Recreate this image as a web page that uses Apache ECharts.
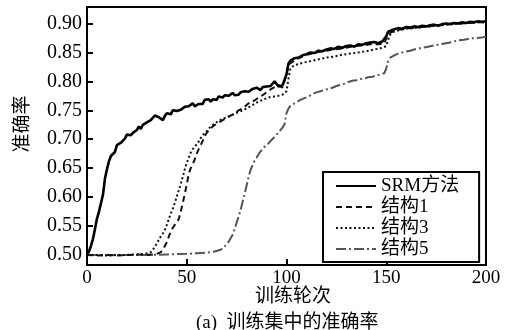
<!DOCTYPE html>
<html>
<head>
<meta charset="utf-8">
<script src="https://cdn.jsdelivr.net/npm/echarts@6/dist/echarts.min.js"></script>
<style>
  html, body { margin: 0; padding: 0; background: #fff; }
  #chart { width: 505px; height: 330px; }
</style>
</head>
<body>
<div id="chart"></div>
<script>
// Training accuracy per epoch, [epoch, accuracy]
const seriesNames = ['SRM方法', '结构1', '结构3', '结构5'];

const srm = [
  [0,0.500],[1,0.506],[2,0.516],[3,0.528],[4,0.545],[5,0.563],[6,0.575],[7,0.578],[8,0.604],[9,0.632],
  [10,0.648],[11,0.662],[12,0.671],[13,0.674],[14,0.678],[15,0.690],[16,0.693],[17,0.694],[18,0.697],[19,0.701],
  [20,0.708],[21,0.709],[22,0.707],[23,0.711],[24,0.713],[25,0.716],[26,0.722],[27,0.718],[28,0.725],[29,0.722],
  [30,0.729],[31,0.727],[32,0.733],[33,0.736],[34,0.741],[35,0.742],[36,0.738],[37,0.735],[38,0.733],[39,0.740],
  [40,0.745],[41,0.748],[42,0.743],[43,0.750],[44,0.752],[45,0.749],[46,0.746],[47,0.751],[48,0.753],[49,0.756],
  [50,0.754],[51,0.757],[52,0.759],[53,0.762],[54,0.757],[55,0.758],[56,0.761],[57,0.764],[58,0.761],[59,0.768],
  [60,0.766],[61,0.769],[62,0.765],[63,0.769],[64,0.771],[65,0.768],[66,0.774],[67,0.771],[68,0.772],[69,0.776],
  [70,0.773],[71,0.775],[72,0.778],[73,0.780],[74,0.776],[75,0.778],[76,0.777],[77,0.781],[78,0.779],[79,0.783],
  [80,0.785],[81,0.782],[82,0.784],[83,0.787],[84,0.786],[85,0.789],[86,0.787],[87,0.785],[88,0.790],[89,0.789],
  [90,0.791],[91,0.788],[92,0.792],[93,0.795],[94,0.800],[95,0.797],[96,0.791],[97,0.789],[98,0.793],[99,0.795],
  [100,0.812],[101,0.831],[102,0.836],[103,0.838],[104,0.840],[106,0.841],[108,0.845],[110,0.847],[112,0.850],[114,0.849],
  [116,0.853],[118,0.852],[120,0.855],[122,0.857],[124,0.856],[126,0.860],[128,0.858],[130,0.861],[132,0.862],[134,0.860],
  [136,0.864],[138,0.863],[140,0.866],[142,0.867],[144,0.868],[146,0.866],[148,0.869],[149,0.867],[150,0.878],[151,0.886],
  [152,0.888],[154,0.890],[156,0.892],[158,0.891],[160,0.894],[162,0.893],[164,0.895],[166,0.894],[168,0.896],[170,0.895],
  [172,0.897],[174,0.898],[176,0.896],[178,0.899],[180,0.900],[182,0.899],[184,0.901],[186,0.900],[188,0.902],[190,0.901],
  [192,0.903],[194,0.902],[196,0.904],[198,0.903],[200,0.904]
];

const struct1 = [
  [0,0.500],[5,0.499],[10,0.500],[15,0.499],[20,0.500],[25,0.501],[30,0.500],[33,0.501],[35,0.502],[37,0.505],
  [38,0.509],[40,0.522],[41,0.532],[42,0.540],[43,0.547],[44,0.552],[45,0.557],[46,0.562],[47,0.575],[48,0.590],
  [49,0.605],[50,0.622],[51,0.640],[52,0.650],[53,0.657],[54,0.665],[55,0.675],[56,0.683],[57,0.690],[58,0.697],
  [59,0.705],[60,0.711],[61,0.715],[62,0.718],[63,0.722],[64,0.724],[65,0.727],[66,0.729],[67,0.731],[68,0.733],
  [69,0.735],[70,0.737],[72,0.741],[74,0.744],[76,0.750],[78,0.753],[80,0.759],[82,0.765],[84,0.767],[86,0.772],
  [88,0.776],[90,0.781],[92,0.786],[94,0.790],[96,0.794],[97,0.791],[98,0.789],[99,0.791],[100,0.812],[101,0.829],
  [102,0.832],[104,0.836],[106,0.840],[108,0.843],[110,0.846],[114,0.849],[118,0.852],[122,0.854],[126,0.856],[130,0.858],
  [134,0.861],[138,0.862],[142,0.864],[146,0.864],[149,0.865],[150,0.874],[151,0.881],[153,0.886],[155,0.889],[158,0.890],
  [162,0.892],[166,0.893],[170,0.895],[175,0.896],[180,0.898],[184,0.900],[188,0.900],[192,0.901],[196,0.902],[200,0.902]
];

const struct3 = [
  [0,0.500],[5,0.500],[10,0.499],[15,0.500],[20,0.500],[25,0.501],[28,0.502],[30,0.503],[32,0.505],[33,0.509],
  [34,0.514],[35,0.520],[36,0.526],[37,0.532],[38,0.537],[39,0.543],[40,0.552],[41,0.562],[42,0.572],[43,0.580],
  [44,0.590],[45,0.601],[46,0.612],[47,0.623],[48,0.635],[49,0.648],[50,0.659],[51,0.668],[52,0.677],[53,0.683],
  [54,0.687],[55,0.690],[56,0.696],[57,0.702],[58,0.707],[60,0.714],[62,0.722],[64,0.727],[66,0.732],[68,0.735],
  [70,0.738],[72,0.741],[74,0.744],[76,0.747],[78,0.750],[80,0.753],[82,0.757],[84,0.761],[86,0.765],[88,0.768],
  [90,0.771],[92,0.773],[94,0.774],[96,0.775],[98,0.777],[100,0.783],[101,0.805],[102,0.823],[104,0.828],[106,0.830],
  [108,0.832],[112,0.835],[116,0.838],[120,0.841],[124,0.843],[128,0.846],[132,0.848],[136,0.850],[140,0.852],[144,0.855],
  [148,0.858],[150,0.861],[151,0.872],[152,0.881],[154,0.886],[157,0.889],[160,0.891],[164,0.892],[168,0.894],[172,0.895],
  [176,0.897],[180,0.898],[184,0.899],[188,0.900],[192,0.901],[196,0.902],[200,0.902]
];

const struct5 = [
  [0,0.500],[10,0.500],[20,0.500],[30,0.500],[40,0.501],[50,0.502],[55,0.503],[60,0.504],[64,0.506],[67,0.509],
  [69,0.515],[71,0.523],[73,0.535],[74,0.545],[75,0.556],[76,0.566],[77,0.578],[78,0.592],[79,0.605],[80,0.620],
  [81,0.635],[82,0.647],[83,0.656],[84,0.663],[85,0.668],[86,0.674],[87,0.679],[88,0.683],[89,0.687],[90,0.690],
  [91,0.693],[92,0.697],[93,0.700],[94,0.704],[95,0.708],[96,0.712],[97,0.716],[98,0.720],[99,0.726],[100,0.745],
  [101,0.753],[102,0.758],[103,0.761],[105,0.764],[107,0.768],[109,0.771],[111,0.774],[113,0.778],[115,0.781],[117,0.783],
  [119,0.785],[121,0.787],[123,0.789],[125,0.792],[127,0.794],[129,0.796],[131,0.799],[133,0.801],[135,0.802],[137,0.804],
  [139,0.805],[141,0.807],[143,0.808],[145,0.810],[147,0.812],[149,0.814],[150,0.822],[151,0.836],[152,0.841],[154,0.845],
  [156,0.848],[159,0.851],[162,0.853],[165,0.856],[168,0.858],[171,0.860],[174,0.862],[177,0.864],[180,0.866],[183,0.868],
  [186,0.871],[189,0.872],[192,0.874],[195,0.875],[198,0.876],[200,0.877]
];

const xTicks = [0, 50, 100, 150, 200];
const yTicks = [0.50, 0.55, 0.60, 0.65, 0.70, 0.75, 0.80, 0.85, 0.90];

const xAxisTitle = '训练轮次';
const yAxisTitle = '准确率';
const caption = '(a)  训练集中的准确率';

const serif = 'Liberation Serif';
const mixed = '"Liberation Serif", "Noto Sans CJK SC", serif';

const chart = echarts.init(document.getElementById('chart'), null, { renderer: 'canvas' });

const lineStyles = [
  { color: '#000', width: 2.6, type: 'solid' },
  { color: '#111', width: 2, type: [6, 4] },
  { color: '#111', width: 2, type: [2, 2.5] },
  { color: '#555', width: 2, type: [10, 3, 2, 3] }
];
const dataSets = [srm, struct1, struct3, struct5];

chart.setOption({
  animation: false,
  backgroundColor: '#fff',
  grid: {
    left: 87, right: 19, top: 7, bottom: 65,
    show: true, borderColor: '#000', borderWidth: 2, backgroundColor: 'transparent'
  },
  xAxis: {
    type: 'value', min: 0, max: 200, interval: 50,
    axisLine: { show: true, lineStyle: { color: '#000', width: 2 } },
    axisTick: { show: true, inside: true, length: 6, customValues: xTicks, lineStyle: { color: '#000', width: 2 } },
    axisLabel: { color: '#000', fontFamily: serif, fontSize: 19, margin: 4, customValues: xTicks },
    splitLine: { show: false }
  },
  yAxis: {
    type: 'value', min: 0.4827, max: 0.9285,
    axisLine: { show: true, lineStyle: { color: '#000', width: 2 } },
    axisTick: { show: true, inside: true, length: 6, customValues: yTicks, lineStyle: { color: '#000', width: 2 } },
    axisLabel: {
      color: '#000', fontFamily: serif, fontSize: 20, margin: 5,
      customValues: yTicks,
      formatter: v => v.toFixed(2)
    },
    splitLine: { show: false }
  },
  legend: {
    orient: 'vertical',
    left: 323, top: 172,
    backgroundColor: '#fff',
    borderColor: '#000', borderWidth: 2,
    padding: [4, 20, 3, 12],
    itemWidth: 40, itemHeight: 14, itemGap: 1,
    itemStyle: { opacity: 0 },
    textStyle: { color: '#000', fontFamily: mixed, fontSize: 19, lineHeight: 20 },
    data: seriesNames
  },
  title: {
    text: caption, left: 191, top: 309,
    textStyle: { color: '#000', fontFamily: mixed, fontSize: 19, fontWeight: 'normal' }
  },
  graphic: [
    {
      type: 'text', x: 293, y: 297,
      style: { text: xAxisTitle, fill: '#000', font: '19px ' + mixed, textAlign: 'center', textVerticalAlign: 'middle' }
    },
    {
      // rotated to read upward along the value axis
      type: 'text', x: 23, y: 124, rotation: Math.PI / 2,
      style: { text: yAxisTitle, fill: '#000', font: '19px ' + mixed, textAlign: 'center', textVerticalAlign: 'middle' }
    }
  ],
  series: seriesNames.map((name, i) => ({
    name,
    type: 'line',
    data: dataSets[i],
    symbol: 'none',
    showSymbol: false,
    lineStyle: lineStyles[i],
    itemStyle: { color: lineStyles[i].color },
    z: 10 - i
  }))
});
</script>
</body>
</html>
